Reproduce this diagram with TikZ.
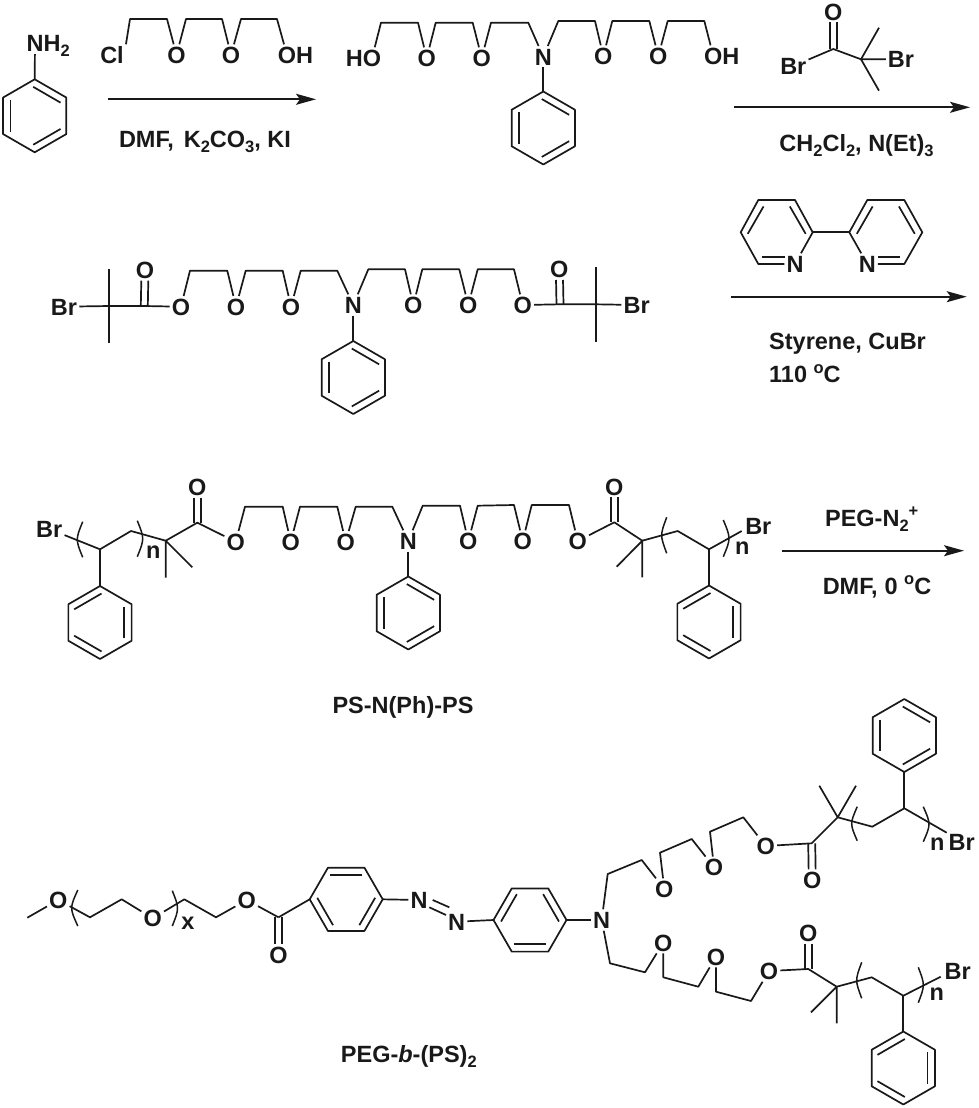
\documentclass[tikz,border=0pt]{standalone}
\usepackage{fontspec}
\setmainfont{Liberation Sans}
\usetikzlibrary{arrows.meta,calc}
\newcommand\sbs[1]{\raisebox{-5pt}{\fontsize{16.5}{17}\selectfont #1}}
\newcommand\sps[1]{\raisebox{9.5pt}{\fontsize{16.5}{17}\selectfont #1}}
\tikzset{
  bond/.style={line width=1.7pt,line join=round,draw=black!90},
  rxn/.style={line width=1.7pt,draw=black!90,-{Stealth[length=20pt,width=11pt,inset=4pt]}},
  atom/.style={font=\fontsize{23.5}{27}\selectfont\bfseries,text height=17pt,text depth=0pt,inner sep=2pt,text=black!90},
  txt/.style={font=\fontsize{23.5}{27}\selectfont\bfseries,inner sep=0pt,anchor=base,text=black!90},
  dl/.style={transform canvas={xshift=-3.5pt}},
  dr/.style={transform canvas={xshift=3.5pt}}
}
\newcommand\pts[1]{\foreach \n/\x/\y in {#1} {\coordinate (\n) at (\x,\y);}}
\newcommand\ringinner[2]{\foreach \t in {#2} {\draw[bond] ($(#1)+(\t-33:29pt)$) -- ($(#1)+(\t+33:29pt)$);}}
\newcommand\ring[5]{%
  \coordinate (#1) at (#2,#3);
  \foreach \i in {1,...,6} {\coordinate (#1-\i) at ($(#1)+({90+#4-60*(\i-1)}:36.5pt)$);}
  \draw[bond] (#1-1) -- (#1-2) -- (#1-3) -- (#1-4) -- (#1-5) -- (#1-6) -- cycle;
  \ringinner{#1}{#5}}
\newcommand\prn[4]{\draw[bond,line width=1.5pt] (#1,#2) .. controls ({#1+(#4-#1)/0.75},{(#2+#3)/2}) .. (#1,#3);}
\newcommand\carbonyl[2]{\draw[bond,dl] (#1) -- (#2); \draw[bond,dr] (#1) -- (#2);}
\begin{document}
\begin{tikzpicture}[x=1pt,y=-1pt]
\useasboundingbox (0,0) rectangle (979,1108);
% ---------- aniline
\ring{ra}{34.7}{115.8}{0}{60,180,-60}
\node[atom] (Na) at (35,43.5) {N};
\node[atom,inner sep=0pt,anchor=west] (Ha) at (43.5,43.5) {H\sbs{2}};
\draw[bond] (Na) -- (ra-1);
% ---------- chloro reagent
\pts{a1/130/19,a2/167/19,a3/186/19,a4/222/19,a5/241/19,a6/277/19}
\node[atom] (Cl) at (112,55) {Cl};
\node[atom] (oa1) at (176.5,55) {O};
\node[atom] (oa2) at (231,55) {O};
\node[atom] (oa3) at (287,55) {O};
\node[atom] (ha3) at (304.6,55) {H};
\draw[bond] (Cl.north east) -- (a1) -- (a2) -- (oa1) -- (a3) -- (a4) -- (oa2) -- (a5) -- (a6) -- (oa3);
% arrow 1
\pts{r1s/108/99.3,r1e/316/99.3}
\draw[rxn] (r1s) -- (r1e);
\node[txt] (t1) at (205,147) {DMF,\hspace{10pt}K\sbs{2}CO\sbs{3}, KI};
% ---------- diol
\pts{b1/381/22.7,b2/418/22.7,b3/435.7/22.7,b4/472.7/22.7,b5/491/22.7,b6/528.3/22.7,b7/558.3/21,b8/595/21,b9/612.3/21,b10/649.3/21,b11/667.7/21,b12/704.3/21}
\node[atom] (hb0) at (354.4,58) {H};
\node[atom] (ob0) at (372,58) {O};
\node[atom] (ob1) at (426.7,58) {O};
\node[atom] (ob2) at (481.7,58) {O};
\node[atom] (nb) at (543.3,56.7) {N};
\node[atom] (ob3) at (603.3,56) {O};
\node[atom] (ob4) at (658.3,56) {O};
\node[atom] (ob5) at (713.3,56) {O};
\node[atom] (hb5) at (730.9,56) {H};
\draw[bond] (ob0) -- (b1) -- (b2) -- (ob1) -- (b3) -- (b4) -- (ob2) -- (b5) -- (b6) -- (nb) -- (b7) -- (b8) -- (ob3) -- (b9) -- (b10) -- (ob4) -- (b11) -- (b12) -- (ob5);
\ring{rb}{543.3}{128}{0}{60,180,-60}
\draw[bond] (nb) -- (rb-1);
% ---------- acyl bromide
\pts{c1/833.3/49,c2/861/59.3,c3/879/27.7,c4/879/90.7}
\node[atom] (oc) at (833.3,11.7) {O};
\node[atom] (brc1) at (793.3,66) {Br};
\node[atom] (brc2) at (901,59.3) {Br};
\carbonyl{c1}{oc}
\draw[bond] (brc1) -- (c1) -- (c2) -- (brc2);
\draw[bond] (c3) -- (c2) -- (c4);
\pts{r2s/734/107.3,r2e/970/107.3}
\draw[rxn] (r2s) -- (r2e);
\node[txt] (t2) at (856.5,151.7) {CH\sbs{2}Cl\sbs{2}, N(Et)\sbs{3}};
% ---------- row 2: initiator
\pts{d0/109/306,d0u/109/269.3,d0d/109/342.7,d1/144.3/306,d2/190/270.7,d3/227.3/270.7,d4/245.7/270.7,d5/282.7/270.7,d6/300.7/270.7,d7/337.3/270.7,d8/368.3/269.3,d9/405/269.3,d10/422.3/269.3,d11/459.3/269.3,d12/477.7/269.3,d13/514/269.3,d14/560/304.3,d15/596/304.3,d15u/596/267.3,d15d/596/341.7}
\node[atom] (brd1) at (64,306.7) {Br};
\node[atom] (odc1) at (145,270) {O};
\node[atom] (od1) at (181,306.7) {O};
\node[atom] (od2) at (236,306.7) {O};
\node[atom] (od3) at (291,306.7) {O};
\node[atom] (nd) at (353.3,305) {N};
\node[atom] (od4) at (413.3,305) {O};
\node[atom] (od5) at (468.3,305) {O};
\node[atom] (od6) at (522.7,305) {O};
\node[atom] (odc2) at (559.3,269.3) {O};
\node[atom] (brd2) at (636.7,305) {Br};
\draw[bond] (brd1) -- (d0) -- (d1) -- (od1) -- (d2) -- (d3) -- (od2) -- (d4) -- (d5) -- (od3) -- (d6) -- (d7) -- (nd) -- (d8) -- (d9) -- (od4) -- (d10) -- (d11) -- (od5) -- (d12) -- (d13) -- (od6) -- (d14) -- (d15) -- (brd2);
\draw[bond] (d0u) -- (d0d);
\draw[bond] (d15u) -- (d15d);
\carbonyl{d1}{odc1}
\carbonyl{d14}{odc2}
\ring{rd}{353.3}{377.5}{0}{60,180,-60}
\draw[bond] (nd) -- (rd-1);
% ---------- bipyridine
\pts{e1/758.3/200,e2/795/200,e3/812.7/232.3,e5/758.3/264,e6/740.7/232.3,ec/776.7/232.3,f1/849.3/232.3,f2/867.3/200,f3/904.3/200,f4/922.3/232.3,f5/904.3/264,fc/885.8/232.3,e7/761.7/256.7,e8/785/256.7,f7/878.3/256.7,f8/900/256.7}
\node[atom] (ne) at (795,264) {N};
\node[atom] (nf) at (867.3,264) {N};
\draw[bond] (ne) -- (e3) -- (e2) -- (e1) -- (e6) -- (e5) -- (ne);
\draw[bond] (nf) -- (f1) -- (f2) -- (f3) -- (f4) -- (f5) -- (nf);
\draw[bond] (e3) -- (f1);
\ringinner{ec}{150,30}
\ringinner{fc}{150,30}
\draw[bond] (e7) -- (e8);
\draw[bond] (f7) -- (f8);
\pts{r3s/730.7/296.7,r3e/966.7/296.7}
\draw[rxn] (r3s) -- (r3e);
\node[txt,anchor=base west] (t3) at (769,349.3) {Styrene, CuBr};
\node[txt,anchor=base west] (t4) at (769,382.7) {110 \sps{o}C};
% ---------- row 3: PS-N(Ph)-PS
\pts{g1/100/549.3,g2/131/531,g3/165.7/540.7,g3a/165.7/577.7,g3b/192.3/567.3,g4/197.3/522.7,g5/245/506.7,g6/282.7/506.7,g7/300/506.7,g8/337.3/506.7,g9/355.7/506.7,g10/392.3/506.7,g11/422.7/505.7,g12/460/505.7,g13/477.7/505.7,g14/514/505,g15/531.7/505,g16/569/505,g17/614.3/522.3,g18/642.3/540.7,g18a/616.7/566.7,g18b/642.3/577.3,g19/677.7/531,g20/709/549.3,g21/741.7/531}
\node[atom] (brg1) at (49.3,529) {Br};
\node[atom] (ogc1) at (197.3,487.3) {O};
\node[atom] (og1) at (235.7,541.7) {O};
\node[atom] (og2) at (290.7,541.7) {O};
\node[atom] (og3) at (345.7,541.7) {O};
\node[atom] (ng) at (408.3,541) {N};
\node[atom] (og4) at (468.3,541) {O};
\node[atom] (og5) at (522.7,541) {O};
\node[atom] (og6) at (577.7,541) {O};
\node[atom] (ogc2) at (614.3,486.7) {O};
\node[atom] (brg2) at (758.3,525.7) {Br};
\draw[bond] (brg1) -- (g1) -- (g2) -- (g3) -- (g4) -- (og1) -- (g5) -- (g6) -- (og2) -- (g7) -- (g8) -- (og3) -- (g9) -- (g10) -- (ng) -- (g11) -- (g12) -- (og4) -- (g13) -- (g14) -- (og5) -- (g15) -- (g16) -- (og6) -- (g17) -- (g18) -- (g19) -- (g20) -- (g21);
\draw[bond] (g3a) -- (g3) -- (g3b);
\draw[bond] (g18a) -- (g18) -- (g18b);
\carbonyl{g4}{ogc1}
\carbonyl{g17}{ogc2}
\prn{82.7}{521.7}{557.3}{77.3}
\prn{137.3}{520.7}{556.7}{142.7}
\prn{666.7}{517.3}{553.3}{661.7}
\prn{723.3}{520}{556.7}{729}
\node[txt] (ng1) at (153.3,558.3) {n};
\node[txt] (ng2) at (742.3,554.3) {n};
\ring{rg1}{100}{622.5}{0}{120,0,-120}
\ring{rg2}{408.3}{613}{0}{60,180,-60}
\ring{rg3}{709}{622}{0}{120,0,-120}
\draw[bond] (g1) -- (rg1-1);
\draw[bond] (ng) -- (rg2-1);
\draw[bond] (g20) -- (rg3-1);
\pts{r4s/781.7/550.7,r4e/964/550.7}
\draw[rxn] (r4s) -- (r4e);
\node[txt] (t5) at (871.7,526) {PEG-N\sbs{2}\sps{+}};
\node[txt] (t6) at (877,594) {DMF,\hspace{7pt}0 \sps{o}C};
\node[txt] (t7) at (403,713.3) {PS-N(Ph)-PS};
% ---------- bottom: PEG-b-(PS)2
\pts{h0/27.3/917.7,h1/90/917.3,h2/121.7/899.3,h3/184.3/899.3,h4/216/917.3,h5/278.5/917.3}
\node[atom] (oh1) at (58.3,900) {O};
\node[atom] (oh2) at (152.7,918.3) {O};
\node[atom] (oh3) at (246.7,900) {O};
\node[atom] (ohc) at (278.5,955) {O};
\draw[bond] (h0) -- (oh1) -- (h1) -- (h2) -- (oh2) -- (h3) -- (h4) -- (oh3) -- (h5);
\carbonyl{h5}{ohc}
\prn{77.8}{890}{926}{71.7}
\prn{172.3}{890.7}{926}{177.5}
\node[txt] (xh) at (188,929) {x};
\ring{rh1}{346.2}{899.3}{30}{90,210,330}
\draw[bond] (h5) -- (rh1-6);
\node[atom] (nh1) at (419,900) {N};
\node[atom] (nh2) at (456.7,921.7) {N};
\draw[bond] (rh1-3) -- (nh1);
\pts{nn1/432.7/900,nn2/449.3/907.3,nn3/429.3/907.3,nn4/446/915}
\draw[bond] (nn1) -- (nn2);
\draw[bond] (nn3) -- (nn4);
\ring{rh2}{530}{920}{30}{150,30,270}
\draw[bond] (nh2) -- (rh2-6);
\node[atom] (nh3) at (601.7,920) {N};
\draw[bond] (rh2-3) -- (nh3);
% upper arm
\pts{u1/607.7/874,u2/641.7/860,u3/660/852.7,u4/691.7/839,u5/710/831.7,u6/743.3/817.3,u7/811.7/843.3,u8/837.7/817.3,u8a/819.3/785.7,u8b/856/785.7,u9/872.3/826.7,u10/904.3/808.3,u11/946.7/832.7}
\node[atom] (ou1) at (664.3,889) {O};
\node[atom] (ou2) at (714,867.3) {O};
\node[atom] (ou3) at (765.7,846) {O};
\node[atom] (ouc) at (812.3,880) {O};
\node[atom] (bru) at (961.7,841.7) {Br};
\draw[bond] (nh3) -- (u1) -- (u2) -- (ou1) -- (u3) -- (u4) -- (ou2) -- (u5) -- (u6) -- (ou3) -- (u7) -- (u8) -- (u9) -- (u10) -- (u11);
\draw[bond] (u8a) -- (u8) -- (u8b);
\carbonyl{u7}{ouc}
\prn{857.2}{806.7}{840.7}{851.7}
\prn{923.3}{806.7}{841.7}{929}
\node[txt] (nu) at (937.3,850) {n};
\ring{ru}{904.3}{735.5}{0}{60,180,-60}
\draw[bond] (u10) -- (ru-4);
% lower arm
\pts{v1/610/963.3,v2/645/972.3,v3/663.3/977.3,v4/698.3/986.7,v5/716/991.7,v6/751/1001,v7/808.3/969,v8/836.7/986.7,v8a/811/1012.3,v8b/836.7/1023.3,v9/871.7/977.3,v10/903.3/995.7,v11/940.7/976.7}
\node[atom] (ov1) at (663.3,942.7) {O};
\node[atom] (ov2) at (716,956.7) {O};
\node[atom] (ov3) at (769,971) {O};
\node[atom] (ovc) at (808.3,933.3) {O};
\node[atom] (brv) at (957.7,971) {Br};
\draw[bond] (nh3) -- (v1) -- (v2) -- (ov1) -- (v3) -- (v4) -- (ov2) -- (v5) -- (v6) -- (ov3) -- (v7) -- (v8) -- (v9) -- (v10) -- (v11);
\draw[bond] (v8a) -- (v8) -- (v8b);
\carbonyl{v7}{ovc}
\prn{861.7}{962.3}{998.3}{856.7}
\prn{918.3}{967.3}{1002.7}{923.3}
\node[txt] (nv) at (936.7,1000) {n};
\ring{rv}{903.3}{1068}{0}{120,0,-120}
\draw[bond] (v10) -- (rv-1);
\node[txt,anchor=base west] (t8) at (340.7,1062.3) {PEG-\textit{b}-(PS)\sbs{2}};
\end{tikzpicture}
\end{document}
